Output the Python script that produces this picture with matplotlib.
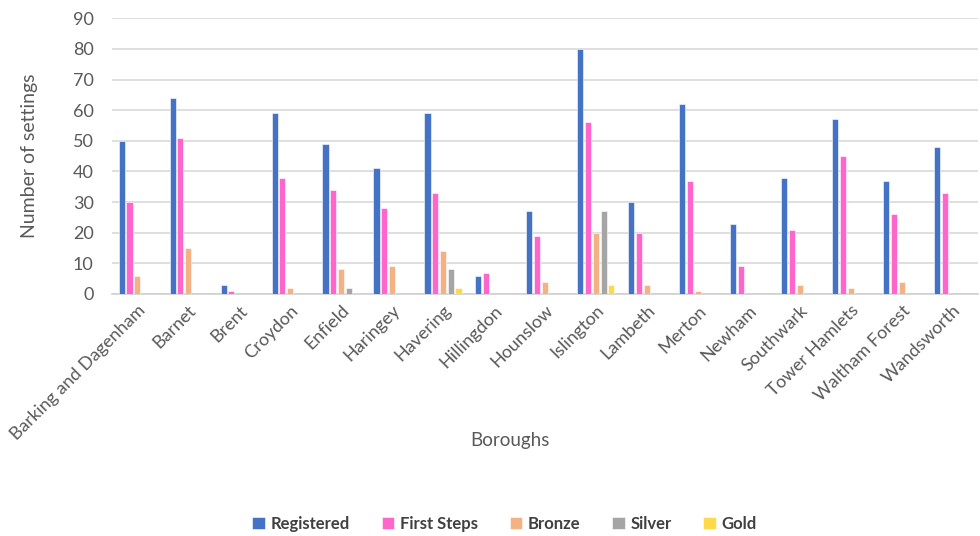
import numpy as np
import matplotlib
matplotlib.use("Agg")
import matplotlib.pyplot as plt

plt.rcParams['font.family'] = ['Lato', 'DejaVu Sans']

# ---------- data ----------
boroughs = ["Barking and Dagenham", "Barnet", "Brent", "Croydon", "Enfield", "Haringey",
            "Havering", "Hillingdon", "Hounslow", "Islington", "Lambeth", "Merton",
            "Newham", "Southwark", "Tower Hamlets", "Waltham Forest", "Wandsworth"]
registered = [50, 64, 3, 59, 49, 41, 59, 6, 27, 80, 30, 62, 23, 38, 57, 37, 48]
first_steps = [30, 51, 1, 38, 34, 28, 33, 7, 19, 56, 20, 37, 9, 21, 45, 26, 33]
bronze = [6, 15, 0, 2, 8, 9, 14, 0, 4, 20, 3, 1, 0, 3, 2, 4, 0]
silver = [0, 0, 0, 0, 2, 0, 8, 0, 0, 27, 0, 0, 0, 0, 0, 0, 0]
gold = [0, 0, 0, 0, 0, 0, 2, 0, 0, 3, 0, 0, 0, 0, 0, 0, 0]

series = [("Registered", registered, "#4472C4"),
          ("First Steps", first_steps, "#FF66CC"),
          ("Bronze", bronze, "#F4B183"),
          ("Silver", silver, "#A5A5A5"),
          ("Gold", gold, "#FFD94A")]

# ---------- chart ----------
fig = plt.figure(figsize=(9.8, 5.36), dpi=100)
ax = fig.add_axes([0.114, 0.4515, 0.884, 0.5145])

x = np.arange(len(boroughs))
pitch = 0.152
width = 0.12
for i, (name, vals, col) in enumerate(series):
    ax.bar(x + (i - 2) * pitch, vals, width, color=col, label=name,
           edgecolor="white", linewidth=0.4, zorder=3)

ax.set_xlim(-0.5, len(boroughs) - 0.5)
ax.set_ylim(0, 90)
ax.set_yticks(range(0, 91, 10))
ax.grid(axis="y", color="#d9d9d9", linewidth=1.2, zorder=0)
for s in ["left", "right", "top"]:
    ax.spines[s].set_visible(False)
ax.spines["bottom"].set_color("#d0d0d0")
ax.spines["bottom"].set_linewidth(1.2)
ax.tick_params(axis="both", length=0, colors="#595959", labelsize=13)
ax.tick_params(axis="y", pad=13)

ax.set_xticks(x)
ax.set_xticklabels(boroughs, rotation=45, ha="right", rotation_mode="anchor",
                   fontsize=13, color="#595959")
ax.tick_params(axis="x", pad=6)

ax.set_ylabel("Number of settings", fontsize=14, color="#595959")
ax.yaxis.set_label_coords(-0.085, 0.5)
fig.text(0.52, 0.178, "Boroughs", ha="center", va="center", fontsize=13.5, color="#595959")

handles, labels = ax.get_legend_handles_labels()
leg = fig.legend(handles, labels, loc="center", bbox_to_anchor=(0.515, 0.022), ncol=5,
                 frameon=False, handlelength=0.75, handleheight=0.75, handletextpad=0.35,
                 columnspacing=1.9, prop={"size": 12, "weight": "bold"})
for t in leg.get_texts():
    t.set_color("#404040")

fig.savefig("out.png", dpi=100)
